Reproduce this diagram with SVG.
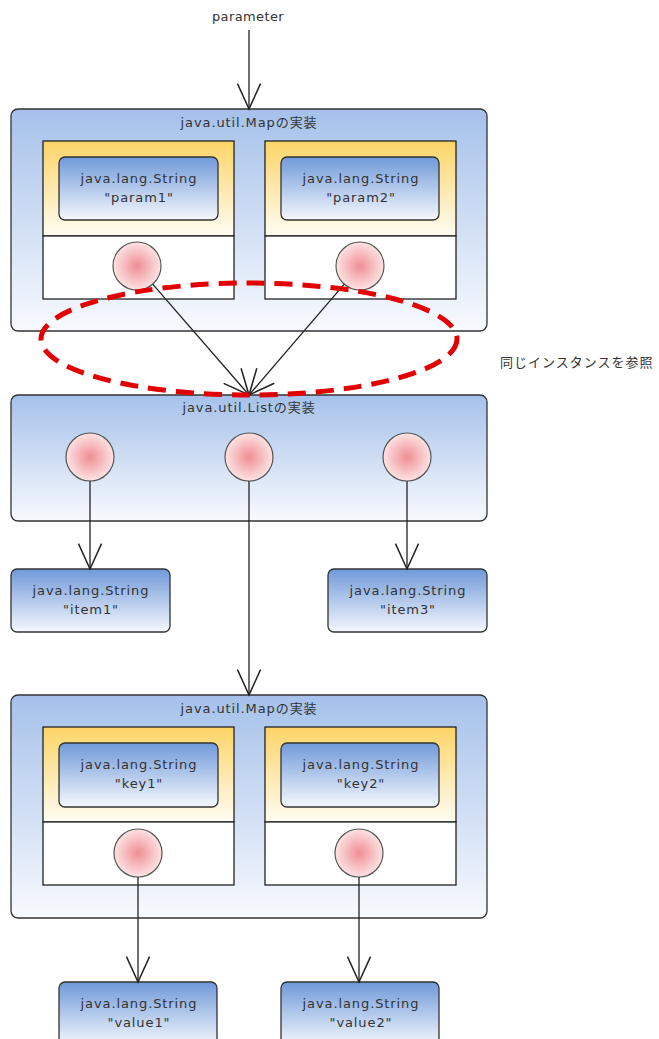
<svg xmlns="http://www.w3.org/2000/svg" width="659" height="1039" viewBox="0 0 659 1039">
<defs>
<linearGradient id="gOuter" x1="0" y1="0" x2="0" y2="1"><stop offset="0" stop-color="#a5c1ea"/><stop offset="1" stop-color="#f8fafe"/></linearGradient>
<linearGradient id="gYellow" x1="0" y1="0" x2="0" y2="1"><stop offset="0" stop-color="#fdd466"/><stop offset="1" stop-color="#fffcf3"/></linearGradient>
<linearGradient id="gStr" x1="0" y1="0" x2="0" y2="1"><stop offset="0" stop-color="#7099d9"/><stop offset="1" stop-color="#f5f8fd"/></linearGradient>
<radialGradient id="gBall" cx="0.5" cy="0.5" r="0.5"><stop offset="0" stop-color="#ef8e95"/><stop offset="1" stop-color="#fde3e3"/></radialGradient>
<marker id="arr" markerUnits="userSpaceOnUse" markerWidth="30" markerHeight="30" viewBox="-24 -13 26 26" refX="0" refY="0" orient="auto">
<path d="M-22,-10 L0,0 L-22,10" fill="none" stroke="#222" stroke-width="1.3"/>
</marker>
</defs>
<style>
text{font-family:"DejaVu Sans","Noto Sans CJK JP",sans-serif;font-size:13px;fill:#333;text-anchor:middle;letter-spacing:0.9px}
.outer{fill:url(#gOuter);stroke:#333;stroke-width:1.3}
.yel{fill:url(#gYellow);stroke:#222;stroke-width:1.3}
.wht{fill:#fff;stroke:#222;stroke-width:1.3}
.str{fill:url(#gStr);stroke:#333;stroke-width:1.3}
.ball{fill:url(#gBall);stroke:#555;stroke-width:1.2}
.con{fill:none;stroke:#222;stroke-width:1.3}
.note{text-anchor:start;letter-spacing:1px}
</style>

<text id="parameter" x="248" y="21" style="letter-spacing:0.4px">parameter</text>

<g id="map1">
<rect class="outer" x="11" y="109" width="476" height="222" rx="7"/>
<text x="249" y="127">java.util.Mapの実装</text>
<g id="entry1">
<rect class="yel" x="43" y="141" width="191" height="95"/>
<rect class="wht" x="43" y="236" width="191" height="63"/>
<rect class="str" x="59" y="157" width="159" height="63" rx="6"/>
<text x="139" y="183">java.lang.String</text>
<text x="139" y="202">"param1"</text>
<circle class="ball" cx="137" cy="266" r="24"/>
</g>
<g id="entry2">
<rect class="yel" x="265" y="141" width="191" height="95"/>
<rect class="wht" x="265" y="236" width="191" height="63"/>
<rect class="str" x="281" y="157" width="158" height="63" rx="6"/>
<text x="361" y="183">java.lang.String</text>
<text x="361" y="202">"param2"</text>
<circle class="ball" cx="360" cy="266" r="24"/>
</g>
</g>

<g id="list">
<rect class="outer" x="11" y="395" width="476" height="126" rx="7"/>
<text x="249" y="412">java.util.Listの実装</text>
<circle class="ball" cx="90" cy="457" r="24"/>
<circle class="ball" cx="249" cy="457" r="24"/>
<circle class="ball" cx="407" cy="457" r="24"/>
</g>

<g id="item1">
<rect class="str" x="11" y="569" width="159" height="63" rx="6"/>
<text x="91" y="595">java.lang.String</text>
<text x="91" y="614">"item1"</text>
</g>
<g id="item3">
<rect class="str" x="328" y="569" width="159" height="63" rx="6"/>
<text x="408" y="595">java.lang.String</text>
<text x="408" y="614">"item3"</text>
</g>

<g id="map2">
<rect class="outer" x="11" y="695" width="476" height="223" rx="7"/>
<text x="249" y="713">java.util.Mapの実装</text>
<g id="entry3">
<rect class="yel" x="43" y="727" width="191" height="95"/>
<rect class="wht" x="43" y="822" width="191" height="63"/>
<rect class="str" x="59" y="743" width="159" height="64" rx="6"/>
<text x="139" y="769">java.lang.String</text>
<text x="139" y="788">"key1"</text>
<circle class="ball" cx="138" cy="853" r="24"/>
</g>
<g id="entry4">
<rect class="yel" x="265" y="727" width="191" height="95"/>
<rect class="wht" x="265" y="822" width="191" height="63"/>
<rect class="str" x="281" y="743" width="158" height="64" rx="6"/>
<text x="361" y="769">java.lang.String</text>
<text x="361" y="788">"key2"</text>
<circle class="ball" cx="359" cy="853" r="24"/>
</g>
</g>

<g id="value1">
<rect class="str" x="59" y="982" width="158" height="64" rx="6"/>
<text x="139" y="1008">java.lang.String</text>
<text x="139" y="1027">"value1"</text>
</g>
<g id="value2">
<rect class="str" x="281" y="982" width="158" height="64" rx="6"/>
<text x="361" y="1008">java.lang.String</text>
<text x="361" y="1027">"value2"</text>
</g>

<g id="connectors">
<line class="con" x1="249" y1="30" x2="249" y2="109" marker-end="url(#arr)"/>
<line class="con" x1="152.7" y1="284.1" x2="249" y2="395" marker-end="url(#arr)"/>
<line class="con" x1="344.3" y1="284.2" x2="249" y2="395" marker-end="url(#arr)"/>
<line class="con" x1="90" y1="481" x2="90" y2="569" marker-end="url(#arr)"/>
<line class="con" x1="407" y1="481" x2="407" y2="569" marker-end="url(#arr)"/>
<line class="con" x1="249" y1="481" x2="249" y2="695" marker-end="url(#arr)"/>
<line class="con" x1="138" y1="877" x2="138" y2="982" marker-end="url(#arr)"/>
<line class="con" x1="359" y1="877" x2="359" y2="982" marker-end="url(#arr)"/>
</g>

<g id="sameInstance">
<ellipse cx="249" cy="339" rx="208" ry="56" fill="none" stroke="#e30000" stroke-width="5" stroke-dasharray="18 10"/>
<text class="note" x="500" y="367">同じインスタンスを参照</text>
</g>
</svg>
